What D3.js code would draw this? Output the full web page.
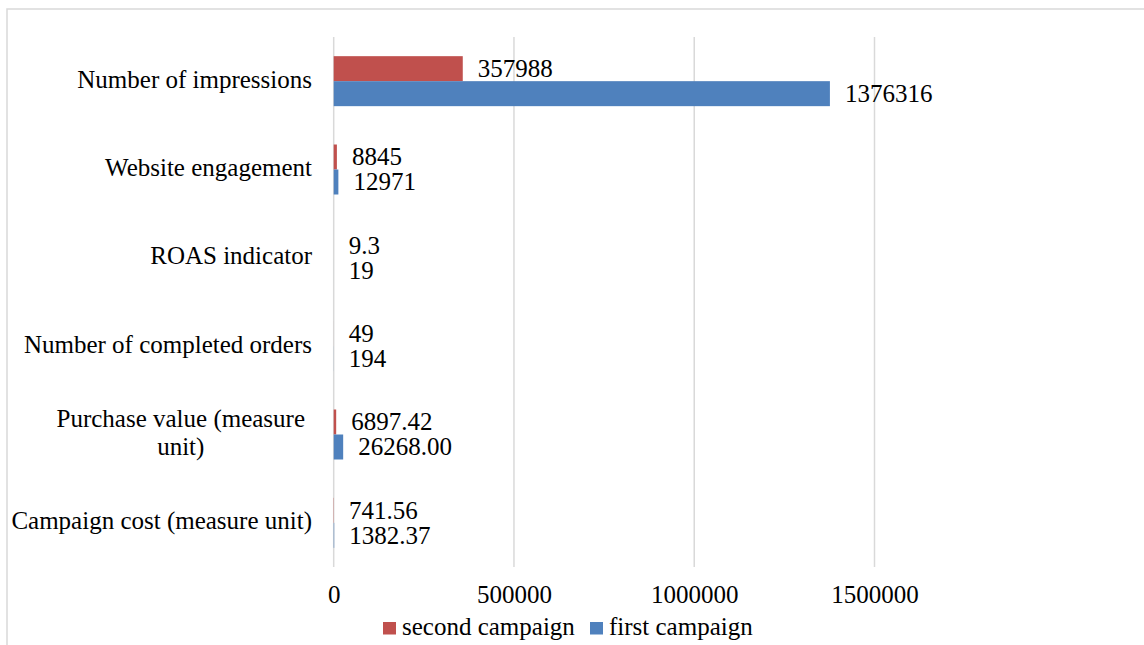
<!DOCTYPE html>
<html>
<head>
<meta charset="utf-8">
<script src="https://cdn.jsdelivr.net/npm/d3@7"></script>
</head>
<body style="margin:0;padding:0;background:#fff">
<svg id="chart" width="1144" height="645" style="display:block"></svg>
<script>
// ---- data ----
const categories = [
  "Number of impressions",
  "Website engagement",
  "ROAS indicator",
  "Number of completed orders",
  "Purchase value (measure\nunit)",
  "Campaign cost (measure unit)"
];
const seriesNames = ["second campaign", "first campaign"];
const secondCampaign = [357988, 8845, 9.3, 49, 6897.42, 741.56];
const firstCampaign = [1376316, 12971, 19, 194, 26268.00, 1382.37];
const labelDecimals = [0, 0, null, 0, 2, 2];
const xTicks = [0, 500000, 1000000, 1500000];
const seriesColors = ["#C0504D", "#4F81BD"];

// ---- layout ----
const FF = "Liberation Serif";
const FONT = 25;
const svg = d3.select("#chart");
const plot = { left: 333.7, right: 874.5, top: 37, bottom: 567 };

function styleText(sel) {
  return sel.style("font-family", FF).style("font-size", FONT + "px").style("fill", "#000");
}

// frame
svg.append("rect")
  .attr("x", 7).attr("y", 9)
  .attr("width", 1300).attr("height", 800)
  .attr("fill", "none").attr("stroke", "#d9d9d9").attr("stroke-width", 1.5);

const x = d3.scaleLinear().domain([0, 1500000]).range([plot.left, plot.right]);
const y = d3.scaleBand().domain(categories).range([plot.top, plot.bottom]).padding(0);
const ySub = d3.scaleBand().domain(seriesNames).range([0, y.bandwidth()])
  .paddingInner(0).paddingOuter(0.767);

// gridlines
svg.append("g").selectAll("line").data(xTicks).join("line")
  .attr("x1", d => x(d)).attr("x2", d => x(d))
  .attr("y1", plot.top).attr("y2", plot.bottom)
  .attr("stroke", "#d9d9d9").attr("stroke-width", 1.5);

// x axis labels
const xAxis = svg.append("g")
  .attr("transform", `translate(0,${plot.bottom})`)
  .call(d3.axisBottom(x).tickValues(xTicks).tickSize(0).tickPadding(0).tickFormat(d3.format("d")));
xAxis.select(".domain").remove();
xAxis.attr("font-family", null).attr("font-size", null);
styleText(xAxis.selectAll("text"))
  .attr("fill", null)
  .attr("dy", null)
  .attr("y", 35.5);

// bars
const rows = categories.map((c, i) => ({
  cat: c, i,
  vals: [
    { s: seriesNames[0], v: secondCampaign[i], color: seriesColors[0] },
    { s: seriesNames[1], v: firstCampaign[i], color: seriesColors[1] }
  ]
}));

function fmt(v, i) {
  const d = labelDecimals[i];
  return d === null ? String(v) : v.toFixed(d);
}

const groups = svg.append("g").selectAll("g").data(rows).join("g")
  .attr("transform", d => `translate(0,${y(d.cat)})`);

groups.selectAll("rect").data(d => d.vals).join("rect")
  .attr("x", x(0))
  .attr("y", d => ySub(d.s))
  .attr("width", d => Math.max(0, x(d.v) - x(0)))
  .attr("height", ySub.bandwidth())
  .attr("fill", d => d.color);

groups.each(function(row) {
  styleText(d3.select(this).selectAll("text.val").data(row.vals).join("text")
    .attr("class", "val")
    .attr("x", d => x(d.v) + 15)
    .attr("y", d => ySub(d.s) + ySub.bandwidth() / 2 + 8.5)
    .text(d => fmt(d.v, row.i)));
});

// category labels
const catG = svg.append("g");
categories.forEach(c => {
  const lines = c.split("\n");
  const cy = y(c) + y.bandwidth() / 2;
  const lh = 28;
  if (lines.length === 1) {
    styleText(catG.append("text")
      .attr("x", 312).attr("y", cy + 6.5)
      .attr("text-anchor", "end")
      .text(c));
  } else {
    const ts = lines.map((l, k) => styleText(catG.append("text")
      .attr("y", cy + 6 + (k - (lines.length - 1) / 2) * lh)
      .attr("text-anchor", "middle")
      .text(l)));
    const maxW = d3.max(ts, t => t.node().getComputedTextLength());
    ts.forEach(t => t.attr("x", 305 - maxW / 2));
  }
});

// legend
const legend = svg.append("g");
const legendItems = [
  { name: seriesNames[0], color: seriesColors[0], x: 383 },
  { name: seriesNames[1], color: seriesColors[1], x: 590 }
];
legendItems.forEach(it => {
  legend.append("rect")
    .attr("x", it.x).attr("y", 622)
    .attr("width", 13).attr("height", 12.5)
    .attr("fill", it.color);
  styleText(legend.append("text")
    .attr("x", it.x + 19).attr("y", 635)
    .text(it.name));
});
</script>
</body>
</html>
